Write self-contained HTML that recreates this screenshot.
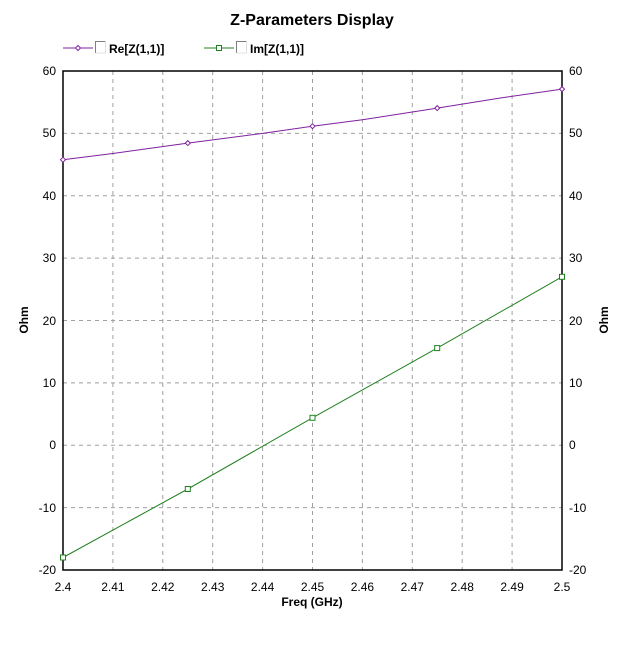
<!DOCTYPE html>
<html><head><style>
body{margin:0;background:#fff;}
svg{display:block;font-family:"Liberation Sans",Arial,sans-serif;}
</style></head><body>
<svg width="633" height="646" xmlns="http://www.w3.org/2000/svg">
<rect width="633" height="646" fill="#fff"/>
<text x="312" y="25" font-size="16" font-weight="bold" text-anchor="middle">Z-Parameters Display</text>
<!-- legend -->
<line x1="63" y1="48" x2="93" y2="48" stroke="#8020a0"/>
<path d="M78 45.5 L80.5 48 L78 50.5 L75.5 48 Z" fill="#fff" stroke="#8020a0"/>
<path d="M95.5 53 V41.5 H105.5" fill="none" stroke="#808080"/><path d="M95.5 53 H105.5 V41.5" fill="none" stroke="#e0e0e0"/>
<text x="109" y="53" font-size="12" font-weight="bold">Re[Z(1,1)]</text>
<line x1="204" y1="48" x2="234" y2="48" stroke="#208020"/>
<rect x="216.5" y="45.5" width="5" height="5" fill="#fff" stroke="#208020"/>
<path d="M236.5 53 V41.5 H246.5" fill="none" stroke="#808080"/><path d="M236.5 53 H246.5 V41.5" fill="none" stroke="#e0e0e0"/>
<text x="250" y="53" font-size="12" font-weight="bold">Im[Z(1,1)]</text>
<!-- grid -->
<g stroke="#a0a0a0" stroke-dasharray="4,4">
<line x1="112.9" y1="71" x2="112.9" y2="570"/><line x1="162.8" y1="71" x2="162.8" y2="570"/>
<line x1="212.7" y1="71" x2="212.7" y2="570"/><line x1="262.6" y1="71" x2="262.6" y2="570"/>
<line x1="312.5" y1="71" x2="312.5" y2="570"/><line x1="362.4" y1="71" x2="362.4" y2="570"/>
<line x1="412.3" y1="71" x2="412.3" y2="570"/><line x1="462.2" y1="71" x2="462.2" y2="570"/>
<line x1="512.1" y1="71" x2="512.1" y2="570"/>
<line x1="63" y1="133.4" x2="562" y2="133.4"/><line x1="63" y1="195.8" x2="562" y2="195.8"/>
<line x1="63" y1="258.1" x2="562" y2="258.1"/><line x1="63" y1="320.5" x2="562" y2="320.5"/>
<line x1="63" y1="382.9" x2="562" y2="382.9"/><line x1="63" y1="445.3" x2="562" y2="445.3"/>
<line x1="63" y1="507.6" x2="562" y2="507.6"/>
</g>
<rect x="63" y="71" width="499" height="499" fill="none" stroke="#000" stroke-width="1.5"/>
<!-- y labels -->
<g font-size="12" text-anchor="end">
<text x="56" y="75">60</text><text x="56" y="137">50</text><text x="56" y="200">40</text><text x="56" y="262">30</text>
<text x="56" y="325">20</text><text x="56" y="387">10</text><text x="56" y="449">0</text><text x="56" y="512">-10</text><text x="56" y="574">-20</text>
</g>
<g font-size="12" text-anchor="start">
<text x="569" y="75">60</text><text x="569" y="137">50</text><text x="569" y="200">40</text><text x="569" y="262">30</text>
<text x="569" y="325">20</text><text x="569" y="387">10</text><text x="569" y="449">0</text><text x="569" y="512">-10</text><text x="569" y="574">-20</text>
</g>
<g font-size="12" text-anchor="middle">
<text x="63" y="591">2.4</text><text x="112.9" y="591">2.41</text><text x="162.8" y="591">2.42</text><text x="212.7" y="591">2.43</text>
<text x="262.6" y="591">2.44</text><text x="312.5" y="591">2.45</text><text x="362.4" y="591">2.46</text><text x="412.3" y="591">2.47</text>
<text x="462.2" y="591">2.48</text><text x="512.1" y="591">2.49</text><text x="562" y="591">2.5</text>
</g>
<text x="312" y="606" font-size="12" font-weight="bold" text-anchor="middle">Freq (GHz)</text>
<text transform="translate(28,320) rotate(-90)" font-size="12" font-weight="bold" text-anchor="middle">Ohm</text>
<text transform="translate(608,320) rotate(-90)" font-size="12" font-weight="bold" text-anchor="middle">Ohm</text>
<!-- series -->
<polyline fill="none" stroke="#8020a0" points="63,159.7 112.9,153.5 187.8,143.1 262.6,133.4 312.5,126.2 362.4,119.8 437.2,108.1 499.6,98.1 562,89.1"/>
<g fill="#fff" stroke="#8020a0">
<path d="M63 157.2 L65.5 159.7 L63 162.2 L60.5 159.7Z"/>
<path d="M187.8 140.6 L190.3 143.1 L187.8 145.6 L185.3 143.1Z"/>
<path d="M312.5 123.7 L315 126.2 L312.5 128.7 L310 126.2Z"/>
<path d="M437.2 105.6 L439.7 108.1 L437.2 110.6 L434.7 108.1Z"/>
<path d="M562 86.6 L564.5 89.1 L562 91.6 L559.5 89.1Z"/>
</g>
<polyline fill="none" stroke="#208020" points="63,557.5 187.8,489 312.5,417.8 437.2,348.1 562,276.8"/>
<g fill="#fff" stroke="#208020">
<rect x="60.5" y="555" width="5" height="5"/><rect x="185.3" y="486.5" width="5" height="5"/>
<rect x="310" y="415.3" width="5" height="5"/><rect x="434.7" y="345.6" width="5" height="5"/>
<rect x="559.5" y="274.3" width="5" height="5"/>
</g>
</svg>
</body></html>
